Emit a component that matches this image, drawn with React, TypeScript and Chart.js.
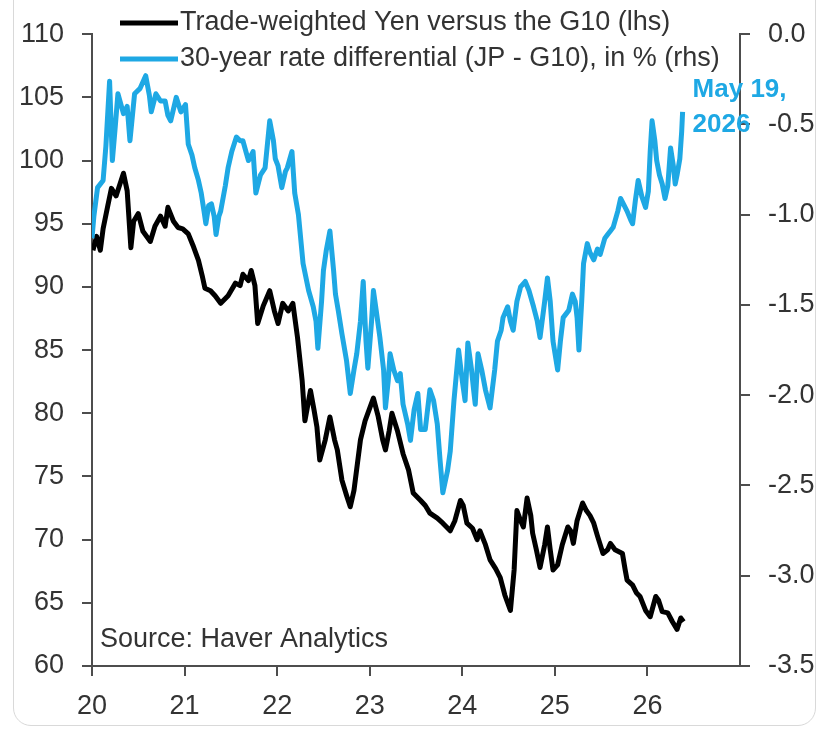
import React, { useEffect, useRef } from "react";
import { Chart, registerables } from "chart.js";

Chart.register(...registerables);

// Trade-weighted Yen versus the G10 (lhs)
const yenDates = [
  20.01, 20.05, 20.09, 20.12, 20.17, 20.21, 20.26, 20.34, 20.38, 20.42, 20.45, 20.5, 20.55, 20.63, 20.68, 20.74,
  20.79, 20.82, 20.88, 20.93, 20.98, 21.04, 21.09, 21.15, 21.19, 21.22, 21.28, 21.33, 21.39, 21.47, 21.55, 21.6,
  21.63, 21.69, 21.72, 21.76, 21.79, 21.85, 21.92, 21.97, 22.01, 22.06, 22.12, 22.17, 22.22, 22.27, 22.3, 22.34,
  22.36, 22.4, 22.43, 22.46, 22.52, 22.57, 22.62, 22.65, 22.7, 22.75, 22.79, 22.83, 22.9, 22.95, 23.01, 23.04,
  23.09, 23.14, 23.17, 23.21, 23.24, 23.3, 23.36, 23.42, 23.47, 23.55, 23.6, 23.65, 23.73, 23.79, 23.87, 23.92,
  23.98, 24.01, 24.05, 24.11, 24.16, 24.19, 24.25, 24.3, 24.36, 24.41, 24.46, 24.52, 24.56, 24.59, 24.63, 24.66,
  24.7, 24.74, 24.76, 24.8, 24.84, 24.89, 24.92, 24.95, 24.98, 25.03, 25.08, 25.14, 25.17, 25.2, 25.24, 25.3,
  25.34, 25.38, 25.42, 25.46, 25.52, 25.57, 25.6, 25.65, 25.73, 25.76, 25.78, 25.84, 25.88, 25.92, 25.98, 26.03,
  26.09, 26.12, 26.16, 26.22, 26.27, 26.32, 26.36, 26.39,
];
const yenValues = [
  92.9, 94.0, 92.9, 94.6, 96.4, 97.8, 97.2, 99.0, 97.6, 93.1, 95.2, 95.8, 94.4, 93.6, 94.8, 95.6,
  94.8, 96.3, 95.2, 94.7, 94.6, 94.2, 93.3, 92.1, 90.9, 89.9, 89.7, 89.3, 88.7, 89.3, 90.3, 90.1,
  91.0, 90.5, 91.3, 90.1, 87.1, 88.5, 89.7, 88.1, 87.1, 88.7, 88.1, 88.7, 86.0, 82.6, 79.4, 81.0,
  81.8, 80.2, 78.9, 76.3, 77.9, 79.7, 77.9, 77.1, 74.7, 73.5, 72.6, 73.9, 77.9, 79.4, 80.6, 81.2,
  79.8, 77.9, 77.1, 78.6, 80.0, 78.6, 76.8, 75.5, 73.7, 73.1, 72.7, 72.1, 71.7, 71.3, 70.7, 71.5,
  73.1, 72.7, 71.3, 70.9, 70.0, 70.7, 69.6, 68.4, 67.7, 67.0, 65.6, 64.4, 67.6, 72.3, 71.5, 71.0,
  73.3, 71.9, 70.5, 69.2, 67.8, 69.6, 71.0, 69.2, 67.6, 68.0, 69.6, 71.0, 70.7, 69.7, 71.5, 72.9,
  72.3, 71.9, 71.3, 70.3, 68.9, 69.2, 69.7, 69.2, 68.9, 67.6, 66.8, 66.4, 65.8, 65.5, 64.4, 63.9,
  65.5, 65.2, 64.3, 64.2, 63.5, 62.9, 63.8, 63.5,
];

// 30-year rate differential (JP - G10), in % (rhs)
const diffDates = [
  20.0, 20.02, 20.06, 20.12, 20.15, 20.19, 20.22, 20.25, 20.28, 20.34, 20.38, 20.41, 20.46, 20.52, 20.58, 20.62,
  20.64, 20.69, 20.74, 20.79, 20.82, 20.85, 20.91, 20.96, 21.01, 21.04, 21.08, 21.11, 21.15, 21.18, 21.21, 21.23,
  21.26, 21.29, 21.32, 21.34, 21.37, 21.39, 21.44, 21.47, 21.51, 21.56, 21.6, 21.63, 21.69, 21.74, 21.77, 21.82,
  21.87, 21.92, 21.96, 21.98, 22.01, 22.05, 22.09, 22.11, 22.16, 22.19, 22.23, 22.28, 22.34, 22.39, 22.42, 22.44,
  22.48, 22.5, 22.53, 22.57, 22.61, 22.63, 22.66, 22.7, 22.75, 22.79, 22.83, 22.86, 22.9, 22.93, 22.96, 22.98,
  23.02, 23.04, 23.07, 23.11, 23.15, 23.17, 23.2, 23.22, 23.26, 23.3, 23.33, 23.36, 23.41, 23.44, 23.48, 23.52,
  23.55, 23.6, 23.65, 23.69, 23.73, 23.76, 23.79, 23.84, 23.87, 23.91, 23.96, 24.0, 24.03, 24.06, 24.1, 24.12,
  24.14, 24.17, 24.21, 24.25, 24.3, 24.35, 24.38, 24.42, 24.44, 24.49, 24.52, 24.55, 24.59, 24.63, 24.68, 24.72,
  24.77, 24.81, 24.84, 24.89, 24.92, 24.95, 24.98, 25.03, 25.06, 25.09, 25.15, 25.19, 25.22, 25.24, 25.26, 25.29,
  25.31, 25.35, 25.38, 25.42, 25.46, 25.49, 25.54, 25.57, 25.6, 25.63, 25.68, 25.71, 25.75, 25.78, 25.82, 25.84,
  25.87, 25.9, 25.94, 25.98, 26.01, 26.03, 26.05, 26.08, 26.1, 26.13, 26.16, 26.19, 26.22, 26.25, 26.28, 26.3,
  26.32, 26.35, 26.37, 26.38,
];
const diffValues = [
  -1.13, -1.01, -0.85, -0.81, -0.62, -0.26, -0.7, -0.52, -0.33, -0.44, -0.4, -0.59, -0.33, -0.3, -0.23, -0.34,
  -0.43, -0.33, -0.37, -0.37, -0.45, -0.48, -0.35, -0.43, -0.39, -0.61, -0.67, -0.74, -0.81, -0.88, -0.98, -1.05,
  -0.95, -0.94, -1.01, -1.11, -1.01, -0.98, -0.84, -0.74, -0.65, -0.57, -0.59, -0.59, -0.7, -0.65, -0.88, -0.78,
  -0.74, -0.48, -0.59, -0.69, -0.73, -0.85, -0.76, -0.74, -0.65, -0.88, -1.0, -1.27, -1.42, -1.51, -1.59, -1.74,
  -1.48, -1.31, -1.2, -1.09, -1.31, -1.44, -1.53, -1.66, -1.81, -1.99, -1.86, -1.77, -1.59, -1.37, -1.7, -1.85,
  -1.59, -1.42, -1.53, -1.68, -1.86, -2.07, -1.92, -1.77, -1.86, -1.92, -1.88, -2.05, -2.16, -2.25, -2.08, -1.99,
  -2.19, -2.19, -1.97, -2.03, -2.16, -2.36, -2.54, -2.42, -2.31, -2.03, -1.75, -1.92, -2.03, -1.71, -1.86, -1.96,
  -2.05, -1.77, -1.86, -1.97, -2.07, -1.86, -1.7, -1.64, -1.57, -1.51, -1.59, -1.64, -1.48, -1.4, -1.37, -1.42,
  -1.51, -1.59, -1.68, -1.48, -1.35, -1.48, -1.7, -1.86, -1.7, -1.57, -1.53, -1.44, -1.48, -1.57, -1.75, -1.48,
  -1.27, -1.16, -1.21, -1.25, -1.19, -1.22, -1.13, -1.11, -1.09, -1.07, -0.98, -0.91, -0.95, -0.98, -1.03, -1.05,
  -0.92, -0.81, -0.9, -0.96, -0.87, -0.65, -0.48, -0.59, -0.7, -0.78, -0.83, -0.91, -0.84, -0.63, -0.73, -0.83,
  -0.78, -0.69, -0.54, -0.43,
];

const yearTicks = [20, 21, 22, 23, 24, 25, 26];
const leftTicks = [60, 65, 70, 75, 80, 85, 90, 95, 100, 105, 110];
const rightTicks = [-3.5, -3.0, -2.5, -2.0, -1.5, -1.0, -0.5, 0.0];

const legendLabels = [
  "Trade-weighted Yen versus the G10 (lhs)",
  "30-year rate differential (JP - G10), in % (rhs)",
];
const sourceText = "Source: Haver Analytics";
const endLabel = ["May 19,", "2026"];

const BLACK = "#000000";
const BLUE = "#1ea8e4";
const TEXT = "#333333";
const AXIS = "#4d4d4d";
const FONT = "'Liberation Sans', Arial, sans-serif";

export default function App() {
  const ref = useRef<HTMLCanvasElement | null>(null);

  useEffect(() => {
    if (!ref.current) return;
    const yenData = yenDates.map((d, i) => ({ x: d, y: yenValues[i] }));
    const diffData = diffDates.map((d, i) => ({ x: d, y: diffValues[i] }));

    const overlay = {
      id: "overlay",
      afterDraw(chart: any) {
        const ctx = chart.ctx;
        ctx.save();
        const rows = [
          { color: BLACK, text: legendLabels[0], y: 23 },
          { color: BLUE, text: legendLabels[1], y: 59 },
        ];
        ctx.font = `27px ${FONT}`;
        ctx.textBaseline = "middle";
        ctx.textAlign = "left";
        rows.forEach((r) => {
          ctx.strokeStyle = r.color;
          ctx.lineWidth = 5;
          ctx.beginPath();
          ctx.moveTo(120, r.y);
          ctx.lineTo(178, r.y);
          ctx.stroke();
          ctx.fillStyle = TEXT;
          ctx.fillText(r.text, 180, r.y);
        });
        ctx.fillStyle = TEXT;
        ctx.fillText(sourceText, 100, 640);
        const xs = chart.scales.x;
        const lastX = xs.getPixelForValue(diffDates[diffDates.length - 1]);
        ctx.font = `bold 26px ${FONT}`;
        ctx.fillStyle = BLUE;
        ctx.textBaseline = "alphabetic";
        ctx.fillText(endLabel[0], lastX + 10, 97);
        ctx.fillText(endLabel[1], lastX + 10, 132);
        ctx.restore();
      },
    };

    const tickFont = { size: 27, family: FONT };

    const chart = new Chart(ref.current, {
      type: "line",
      data: {
        datasets: [
          {
            label: legendLabels[1],
            data: diffData,
            yAxisID: "y1",
            borderColor: BLUE,
            borderWidth: 5,
            pointRadius: 0,
            tension: 0,
            borderJoinStyle: "round",
          },
          {
            label: legendLabels[0],
            data: yenData,
            yAxisID: "y",
            borderColor: BLACK,
            borderWidth: 5,
            pointRadius: 0,
            tension: 0,
            borderJoinStyle: "round",
          },
        ],
      },
      options: {
        animation: false,
        responsive: false,
        layout: { padding: { top: 33, left: 0, right: 0, bottom: 0 } },
        plugins: { legend: { display: false }, tooltip: { enabled: false } },
        scales: {
          x: {
            type: "linear",
            min: 20,
            max: 27,
            afterBuildTicks: (axis: any) => {
              axis.ticks = yearTicks.map((v) => ({ value: v }));
            },
            afterFit: (s: any) => {
              s.height = 66;
            },
            ticks: {
              font: tickFont,
              color: TEXT,
              padding: 14,
              maxRotation: 0,
              callback: (v: any) => String(v),
            },
            grid: { drawOnChartArea: false, drawTicks: true, tickLength: 10, color: AXIS, lineWidth: 2 },
            border: { display: true, color: AXIS, width: 2 },
          },
          y: {
            position: "left",
            min: 60,
            max: 110,
            afterBuildTicks: (axis: any) => {
              axis.ticks = leftTicks.map((v) => ({ value: v }));
            },
            afterFit: (s: any) => {
              s.width = 92;
            },
            ticks: {
              font: tickFont,
              color: TEXT,
              padding: 18,
              callback: (v: any) => String(v),
            },
            grid: { drawOnChartArea: false, drawTicks: true, tickLength: 10, color: AXIS, lineWidth: 2 },
            border: { display: true, color: AXIS, width: 2 },
          },
          y1: {
            position: "right",
            min: -3.5,
            max: 0,
            afterBuildTicks: (axis: any) => {
              axis.ticks = rightTicks.map((v) => ({ value: v }));
            },
            afterFit: (s: any) => {
              s.width = 81;
            },
            ticks: {
              font: tickFont,
              color: TEXT,
              padding: 18,
              callback: (v: any) => Number(v).toFixed(1),
            },
            grid: { drawOnChartArea: false, drawTicks: true, tickLength: 10, color: AXIS, lineWidth: 2 },
            border: { display: true, color: AXIS, width: 2 },
          },
        },
      },
      plugins: [overlay],
    } as any);

    return () => chart.destroy();
  }, []);

  return (
    <div style={{ position: "absolute", left: 0, top: 0, width: 821, height: 732, background: "#fff", overflow: "hidden" }}>
      <div
        style={{
          position: "absolute",
          left: 13,
          top: -20,
          width: 803,
          height: 746,
          border: "1px solid #d9d9d9",
          borderRadius: 18,
          boxSizing: "border-box",
        }}
      />
      <canvas ref={ref} width={821} height={732} style={{ position: "absolute", left: 0, top: 0 }} />
    </div>
  );
}
